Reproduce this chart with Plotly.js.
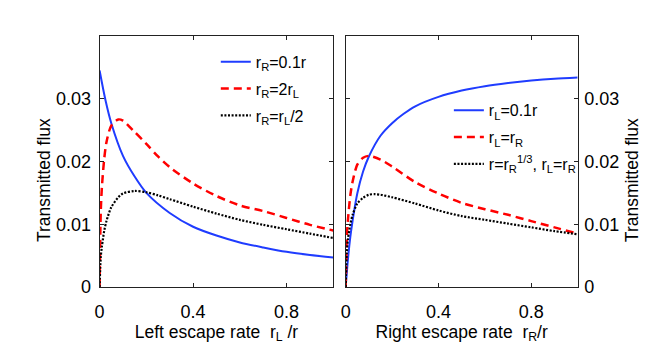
<!DOCTYPE html>
<html>
<head>
<meta charset="utf-8">
<script src="https://cdn.plot.ly/plotly-3.0.1.min.js"></script>
<style>
  body { margin: 0; background: #fff; }
  #chart { width: 664px; height: 359px; }
</style>
</head>
<body>
<div id="chart"></div>
<script>
// left panel: flux vs left escape rate rL/r
const xLeftBlue = [0, 0.025, 0.05, 0.1, 0.15, 0.2, 0.3, 0.4, 0.5, 0.6, 0.7, 0.8, 0.9, 1.0];
const yLeftBlue = [0.0345, 0.0298, 0.0261, 0.0209, 0.0176, 0.0150, 0.0118, 0.0096, 0.0082, 0.0071, 0.0063, 0.0056, 0.0051, 0.0047];

const xLeftRed = [0, 0.005, 0.01, 0.02, 0.03, 0.05, 0.08, 0.1, 0.15, 0.2, 0.25, 0.3, 0.4, 0.5, 0.6, 0.7, 0.8, 0.9, 1.0];
const yLeftRed = [0, 0.012, 0.016, 0.0205, 0.0232, 0.0257, 0.0267, 0.0265, 0.0247, 0.0228, 0.0208, 0.0191, 0.0165, 0.0145, 0.0130, 0.0121, 0.0110, 0.0099, 0.0090];

const xLeftBlack = [0, 0.005, 0.01, 0.02, 0.03, 0.05, 0.08, 0.1, 0.15, 0.2, 0.25, 0.3, 0.4, 0.5, 0.6, 0.7, 0.8, 0.9, 1.0];
const yLeftBlack = [0, 0.0048, 0.0065, 0.0090, 0.0106, 0.0127, 0.0143, 0.0149, 0.0153, 0.0151, 0.0146, 0.0140, 0.0128, 0.0117, 0.0107, 0.0099, 0.0092, 0.0085, 0.0078];

// right panel: flux vs right escape rate rR/r
const xRightBlue = [0, 0.01, 0.02, 0.03, 0.05, 0.075, 0.1, 0.15, 0.2, 0.25, 0.3, 0.4, 0.5, 0.6, 0.7, 0.8, 0.9, 1.0];
const yRightBlue = [0, 0.0045, 0.0080, 0.0106, 0.0149, 0.0184, 0.0208, 0.0241, 0.0261, 0.0276, 0.0288, 0.0303, 0.0313, 0.0320, 0.0325, 0.0329, 0.0332, 0.0334];

const xRightRed = [0, 0.005, 0.01, 0.02, 0.03, 0.05, 0.075, 0.1, 0.15, 0.2, 0.3, 0.4, 0.5, 0.6, 0.7, 0.8, 0.9, 1.0];
const yRightRed = [0, 0.008, 0.0108, 0.0146, 0.0168, 0.0195, 0.0206, 0.0209, 0.0203, 0.0192, 0.0167, 0.0149, 0.0134, 0.0124, 0.0115, 0.0105, 0.0095, 0.0085];

const xRightBlack = [0, 0.005, 0.01, 0.02, 0.03, 0.05, 0.075, 0.1, 0.125, 0.15, 0.2, 0.3, 0.4, 0.5, 0.6, 0.7, 0.8, 0.9, 1.0];
const yRightBlack = [0, 0.0055, 0.0077, 0.0100, 0.0115, 0.0133, 0.0142, 0.0147, 0.0148, 0.0147, 0.0143, 0.0133, 0.0122, 0.0113, 0.0107, 0.0101, 0.0095, 0.0089, 0.0084];

const xTicks = [0, 0.4, 0.8];
const xTickText = ['0', '0.4', '0.8'];
const yTicks = [0, 0.01, 0.02, 0.03];
const yTickText = ['0', '0.01', '0.02', '0.03'];

const FONT = 'Liberation Sans, Arial, sans-serif';
const BLUE = '#1f3cff';
const RED = '#ff0000';
const BLACK = '#000000';

function line(x, y, name, color, dash, width, xa, ya, legend, group) {
    return {
        x: x, y: y, name: name,
        type: 'scatter', mode: 'lines',
        line: { color: color, dash: dash, width: width, shape: 'spline', smoothing: 0.8 },
        xaxis: xa, yaxis: ya, legend: legend, legendgroup: group,
        hoverinfo: 'skip'
    };
}

const data = [
    line(xLeftBlue, yLeftBlue, 'r<sub>R</sub>=0.1r', BLUE, 'solid', 2, 'x', 'y', 'legend', 'a'),
    line(xLeftRed, yLeftRed, 'r<sub>R</sub>=2r<sub>L</sub>', RED, '8px,5px', 2.5, 'x', 'y', 'legend', 'b'),
    line(xLeftBlack, yLeftBlack, 'r<sub>R</sub>=r<sub>L</sub>/2', BLACK, '2px,1.6px', 2.2, 'x', 'y', 'legend', 'c'),
    line(xRightBlue, yRightBlue, 'r<sub>L</sub>=0.1r', BLUE, 'solid', 2, 'x2', 'y2', 'legend2', 'd'),
    line(xRightRed, yRightRed, 'r<sub>L</sub>=r<sub>R</sub>', RED, '8px,5px', 2.5, 'x2', 'y2', 'legend2', 'e'),
    line(xRightBlack, yRightBlack, 'r=r<sub>R</sub><sup>1/3</sup>, r<sub>L</sub>=r<sub>R</sub>', BLACK, '2px,1.6px', 2.2, 'x2', 'y2', 'legend2', 'f')
];

const axisCommon = {
    range: [0, 1],
    showline: true, mirror: 'ticks', linecolor: '#222', linewidth: 1,
    ticks: 'inside', ticklen: 4, tickcolor: '#222',
    showgrid: false, zeroline: false,
    tickfont: { family: FONT, size: 18, color: '#000' }
};

const layout = {
    width: 664, height: 359,
    margin: { l: 0, r: 0, t: 0, b: 0 },
    paper_bgcolor: '#fff', plot_bgcolor: '#fff',
    font: { family: FONT, size: 17, color: '#000' },
    xaxis: Object.assign({}, axisCommon, {
        domain: [0.150, 0.502], anchor: 'y',
        tickvals: xTicks, ticktext: xTickText, ticklabelstandoff: 8,
        title: { text: 'Left escape rate  r<sub>L</sub> /r', font: { family: FONT, size: 17.5 }, standoff: 1 }
    }),
    yaxis: Object.assign({}, axisCommon, {
        domain: [0.2006, 0.8997], anchor: 'x', range: [0, 0.04],
        tickvals: yTicks, ticktext: yTickText, ticklabelstandoff: 4
    }),
    xaxis2: Object.assign({}, axisCommon, {
        domain: [0.5206, 0.870], anchor: 'y2',
        tickvals: xTicks, ticktext: xTickText, ticklabelstandoff: 8,
        title: { text: 'Right escape rate  r<sub>R</sub>/r', font: { family: FONT, size: 17.5 }, standoff: 1 }
    }),
    yaxis2: Object.assign({}, axisCommon, {
        domain: [0.2006, 0.8997], anchor: 'x2', side: 'right', range: [0, 0.04],
        tickvals: yTicks, ticktext: yTickText, ticklabelstandoff: 2
    }),
    annotations: [
        { text: 'Transmitted flux', xref: 'paper', yref: 'paper', x: 0.0663, y: 0.4986,
          xanchor: 'center', yanchor: 'middle',
          textangle: -90, showarrow: false, font: { family: FONT, size: 17.5 } },
        { text: 'Transmitted flux', xref: 'paper', yref: 'paper', x: 0.952, y: 0.4986,
          xanchor: 'center', yanchor: 'middle',
          textangle: -90, showarrow: false, font: { family: FONT, size: 17.5 } }
    ],
    legend: {
        x: 0.325, y: 0.875, xanchor: 'left', yanchor: 'top',
        bgcolor: 'rgba(0,0,0,0)', borderwidth: 0,
        font: { family: FONT, size: 16 }, traceorder: 'grouped', tracegroupgap: 3
    },
    legend2: {
        x: 0.676, y: 0.74, xanchor: 'left', yanchor: 'top',
        bgcolor: 'rgba(0,0,0,0)', borderwidth: 0,
        font: { family: FONT, size: 16 }, traceorder: 'grouped', tracegroupgap: 3
    },
    showlegend: true
};

Plotly.newPlot('chart', data, layout, { displayModeBar: false, staticPlot: true });
</script>
</body>
</html>
